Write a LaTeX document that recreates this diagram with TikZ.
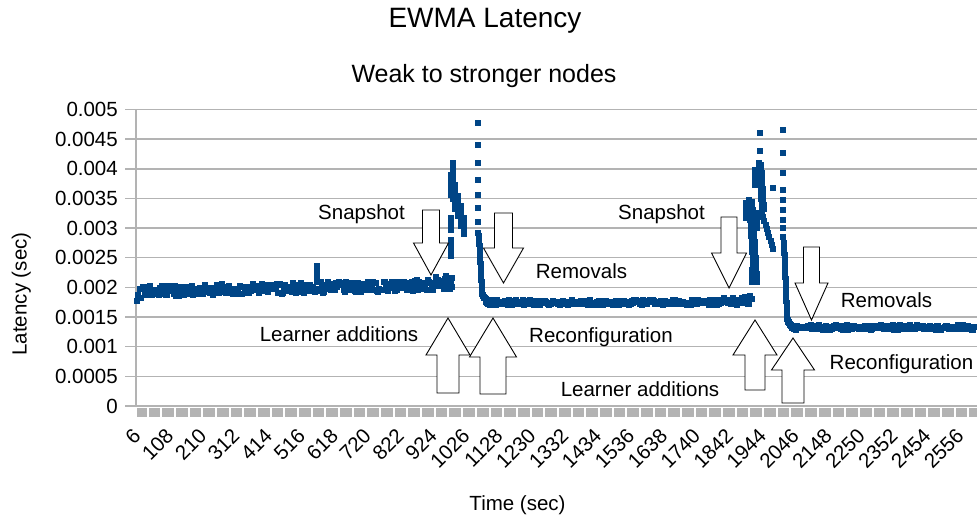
\documentclass[tikz,border=0pt]{standalone}
\usepackage{fontspec}
\setmainfont{Liberation Sans}
\definecolor{series}{HTML}{004586}
\definecolor{gridgray}{HTML}{B3B3B3}

% one marker of the data series, centred on (#1,#2)
\newcommand\mk[2]{\fill[series] (#1-3,#2-3) rectangle (#1+3,#2+3);}
% block arrow: centre x, shaft half width, head half width, shaft end y, head base y, tip y
\newcommand\drawblockarrow[6]{%
  \draw[blockarrow] (#1-#2,#4) -- (#1+#2,#4) -- (#1+#2,#5) -- (#1+#3,#5)
    -- (#1,#6) -- (#1-#3,#5) -- (#1-#2,#5) -- cycle;}

\tikzset{
  lbl/.style={font=\fontsize{20.5}{24}\selectfont, inner sep=0pt, anchor=base},
  ylab/.style={font=\fontsize{20.5}{24}\selectfont, inner sep=0pt, anchor=east},
  xlab/.style={font=\fontsize{20.5}{24}\selectfont, inner sep=0pt, anchor=east, rotate=45},
  gridline/.style={draw=gridgray, line width=1.5pt},
  blockarrow/.style={draw=black, fill=white, line width=0.9pt, line join=miter},
}

\begin{document}
\begin{tikzpicture}[x=1pt, y=-1pt]
\useasboundingbox (0,0) rectangle (977,518);

% titles
\node[lbl, font=\fontsize{28}{32}\selectfont] (title) at (485,28) {EWMA Latency};
\node[lbl, font=\fontsize{25}{29}\selectfont] (subtitle) at (484,83) {Weak to stronger nodes};

% horizontal grid with ticks and value labels
\foreach \v [count=\k from 0] in {0,0.0005,0.001,0.0015,0.002,0.0025,0.003,0.0035,0.004,0.0045,0.005}{
  \draw[gridline] (125,406-29.65*\k) -- (977,406-29.65*\k);
  \node[ylab] (yl\k) at (118,406-29.65*\k) {\v};
}
\draw[gridline] (136,109.5) -- (136,406);

% category tick band
\fill[gridgray] (137,407.5) rectangle (977,417);
\foreach \i in {0,...,60}{
  \draw[white, line width=2pt] (147.5+13.68*\i,407.5) -- (147.5+13.68*\i,417);
}

% category labels
\foreach \c [count=\i from 0] in {6,108,210,312,414,516,618,720,822,924,1026,1128,1230,1332,1434,1536,1638,1740,1842,1944,2046,2148,2250,2352,2454,2556}{
  \node[xlab] (xl\i) at (137+32.92*\i,432) {\c};
}

% axis titles
\node[lbl] (xtitle) at (517.5,510.5) {Time (sec)};
\node[lbl, rotate=90] (ytitle) at (26.7,294) {Latency (sec)};

% ---- data series ----
\pgfmathsetseed{1234}
% first plateau
\foreach \x in {137,...,452}{
  \pgfmathsetmacro\yc{291.5-0.022*(\x-146)+8.5*exp(-min(\x-137,30)/3)+5.5*rand}
  \mk{\x}{\yc}
}
\foreach \x in {436,...,452}{
  \pgfmathsetmacro\yc{281+7*rand}
  \mk{\x}{\yc}
}
\foreach \y in {266,270,...,284} {\mk{317}{\y}}
% first burst
\foreach \y in {163,167,...,199} {\mk{453}{\y}}
\foreach \y in {175,179,...,195} {\mk{451}{\y}}
\foreach \y in {185,189,...,210} {\mk{455}{\y}}
\foreach \y in {196,200,...,216} {\mk{458}{\y}}
\foreach \y in {206,210,...,226} {\mk{461}{\y}}
\foreach \y in {218,222,...,234} {\mk{464}{\y}}
\foreach \y in {218,224,230} {\mk{451}{\y}}
\foreach \y in {240,244,...,258} {\mk{451}{\y}}
% first decay
\foreach \y in {123,145,163,180,195,208,222,233} {\mk{478}{\y}}
\foreach \y in {236,238,...,290}{
  \pgfmathsetmacro\xx{479+(\y-236)/54*3}
  \mk{\xx}{\y}
}
\foreach \t in {0,0.05,...,1}{
  \pgfmathsetmacro\xx{482+10*(1-cos(90*\t))}
  \pgfmathsetmacro\yy{290+12*sin(90*\t)}
  \mk{\xx}{\yy}
}
% second plateau
\foreach \x in {486,...,752}{
  \pgfmathsetmacro\yc{302.5-0.05*max(0,\x-700)+(2.5+0.05*max(0,\x-700))*rand}
  \mk{\x}{\yc}
}
% second burst
\foreach \y in {200,204,...,280}{
  \pgfmathsetmacro\xx{749+(\y-200)/80*5}
  \mk{\xx}{\y}
  \mk{\xx+3}{\y+2}
}
\foreach \y in {203,208,...,218} {\mk{746}{\y}}
\foreach \y in {270,274,...,282} {\mk{752}{\y}}
\mk{760}{133}
\mk{760}{151}
\foreach \y in {163,167,...,210}{
  \pgfmathsetmacro\xx{759+(\y-163)/47*3}
  \mk{\xx}{\y}
  \mk{\xx+2}{\y+2}
}
\foreach \y in {170,175,...,187} {\mk{755}{\y}}
\foreach \y in {213,217,...,249}{
  \pgfmathsetmacro\xx{762+(\y-213)/36*11}
  \mk{\xx}{\y}
}
\foreach \y in {213,218,...,228} {\mk{757}{\y}}
\mk{773}{188}
% second decay
\foreach \y in {130,153,173,190,200,210,220,228,237} {\mk{783}{\y}}
\foreach \y in {243,245,...,315}{
  \pgfmathsetmacro\xx{784+(\y-243)/72*3}
  \mk{\xx}{\y}
}
\foreach \t in {0,0.05,...,1}{
  \pgfmathsetmacro\xx{787+9*(1-cos(90*\t))}
  \pgfmathsetmacro\yy{315+12.5*sin(90*\t)}
  \mk{\xx}{\yy}
}
% third plateau
\foreach \x in {792,...,974}{
  \pgfmathsetmacro\yc{327.5+2.5*rand}
  \mk{\x}{\yc}
}

% ---- annotations ----
\drawblockarrow{431}{8.5}{17.5}{210}{243}{275}
\drawblockarrow{503.5}{9}{20}{213}{248}{283}
\drawblockarrow{729}{8}{17.5}{217}{253}{288}
\drawblockarrow{811.5}{8}{16.5}{247}{283}{320}
\drawblockarrow{448}{11}{22}{393}{355}{318}
\drawblockarrow{493}{13}{23.5}{394}{357}{318}
\drawblockarrow{755}{10}{22}{390}{355}{320}
\drawblockarrow{793}{11}{21.5}{403}{370}{338}

\node[lbl] (snap1) at (361.5,220) {Snapshot};
\node[lbl] (rem1) at (581.5,279) {Removals};
\node[lbl] (learn1) at (339,342) {Learner additions};
\node[lbl] (reconf1) at (601,343) {Reconfiguration};
\node[lbl] (snap2) at (661.5,220) {Snapshot};
\node[lbl] (rem2) at (886.5,308) {Removals};
\node[lbl] (reconf2) at (901.5,370) {Reconfiguration};
\node[lbl] (learn2) at (640,396) {Learner additions};
\end{tikzpicture}
\end{document}
